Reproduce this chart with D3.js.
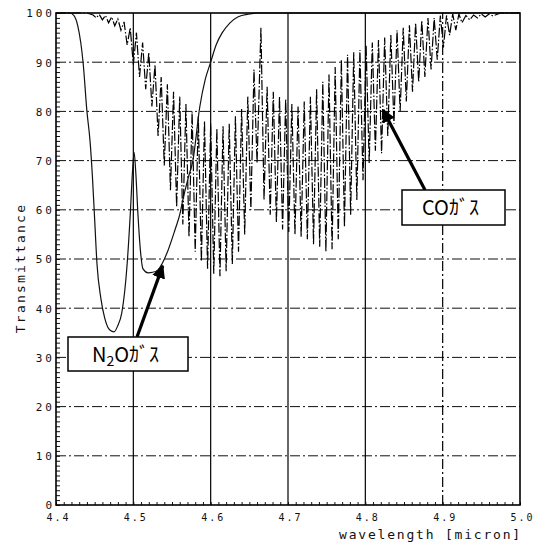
<!DOCTYPE html>
<html>
<head>
<meta charset="utf-8">
<script src="https://cdn.jsdelivr.net/npm/d3@7"></script>
<style>
  body { margin: 0; background: #fff; }
  svg { display: block; }
  .mono { font-family: "DejaVu Sans Mono", monospace; fill: #111; }
  .note { font-family: "Noto Sans CJK JP", "Noto Sans", sans-serif; fill: #000; }
</style>
</head>
<body>
<div id="container"></div>
<script>
/* DATA */
const xTicks = [4.4, 4.5, 4.6, 4.7, 4.8, 4.9, 5.0];
const xTickLabels = ["4.4", "4.5", "4.6", "4.7", "4.8", "4.9", "5.0"];
const yTicks = [0, 10, 20, 30, 40, 50, 60, 70, 80, 90, 100];

// N2O gas (smooth solid curve)
const n2oWave = [4.400, 4.418, 4.423, 4.428, 4.432, 4.435, 4.440, 4.444, 4.447, 4.450,
  4.453, 4.458, 4.463, 4.470, 4.475, 4.480, 4.485, 4.492, 4.496, 4.499,
  4.501, 4.503, 4.506, 4.509, 4.5125, 4.519, 4.525, 4.532, 4.537, 4.5435,
  4.554, 4.560, 4.564, 4.571, 4.577, 4.586, 4.593, 4.600, 4.607, 4.615,
  4.625, 4.635, 4.650, 4.660, 5.000];
const n2oTrans = [100, 100, 99.5, 97.5, 94, 90, 80, 74, 67, 58,
  49, 42, 38, 35.5, 35.2, 36.5, 39, 49, 59, 68,
  71.7, 68, 59, 52, 48, 47.2, 47.3, 47.8, 49, 51.2,
  56, 59, 62, 66.5, 70, 81, 86.5, 90, 93.5, 96,
  98, 99.2, 99.8, 100, 100];

// CO gas (rotational lines, dash-dot trace)
const coWave = [4.400, 4.440, 4.448, 4.452, 4.456, 4.460, 4.464, 4.468, 4.472, 4.476,
  4.480, 4.484, 4.488, 4.492, 4.496, 4.500, 4.504, 4.508, 4.512, 4.516,
  4.520, 4.524, 4.528, 4.532, 4.536, 4.540, 4.544, 4.548, 4.552, 4.556,
  4.560, 4.564, 4.568, 4.572, 4.576, 4.580, 4.584, 4.588, 4.592, 4.596,
  4.600, 4.604, 4.608, 4.612, 4.616, 4.620, 4.624, 4.628, 4.632, 4.636,
  4.640, 4.644, 4.648, 4.652, 4.656, 4.660, 4.665, 4.669, 4.673, 4.677,
  4.681, 4.685, 4.689, 4.693, 4.697, 4.701, 4.705, 4.709, 4.713, 4.717,
  4.721, 4.725, 4.729, 4.733, 4.737, 4.741, 4.745, 4.749, 4.753, 4.757,
  4.761, 4.765, 4.769, 4.773, 4.777, 4.781, 4.785, 4.789, 4.793, 4.797,
  4.801, 4.805, 4.809, 4.813, 4.817, 4.821, 4.825, 4.829, 4.833, 4.837,
  4.841, 4.845, 4.849, 4.853, 4.857, 4.861, 4.865, 4.869, 4.873, 4.877,
  4.881, 4.885, 4.889, 4.893, 4.897, 4.901, 4.905, 4.909, 4.913, 4.917,
  4.921, 4.925, 4.930, 4.935, 4.940, 4.945, 4.950, 4.955, 4.960, 4.965,
  4.975, 5.000];
const coTrans = [100, 100, 99.6, 99.0, 99.7, 98.6, 99.5, 98.0, 99.2, 97.4,
  98.8, 96.5, 98.2, 93.5, 97.0, 89.5, 96.0, 87.0, 94.0, 84.5,
  92.0, 81.0, 89.5, 75.0, 87.0, 69.0, 85.5, 64.0, 84.0, 60.5,
  83.0, 57.0, 81.5, 54.5, 80.0, 51.5, 79.0, 49.5, 78.0, 48.0,
  77.5, 47.0, 76.5, 46.5, 77.0, 47.5, 77.5, 49.0, 79.0, 51.5,
  80.5, 55.0, 83.0, 60.0, 88.5, 69.5, 97.0, 62.0, 85.0, 59.0,
  84.0, 57.5, 83.0, 56.0, 82.5, 55.5, 81.5, 55.0, 81.0, 54.5,
  82.0, 54.0, 83.0, 53.0, 84.5, 52.5, 86.0, 51.5, 87.5, 52.0,
  89.0, 54.0, 90.5, 56.5, 91.5, 59.0, 92.0, 62.0, 92.5, 66.0,
  93.5, 69.5, 94.0, 72.0, 94.5, 71.5, 95.0, 75.0, 95.5, 77.5,
  96.5, 80.0, 97.0, 82.0, 97.5, 84.0, 98.0, 86.0, 98.5, 87.0,
  99.0, 88.5, 99.0, 90.5, 99.5, 93.0, 99.5, 95.5, 99.8, 96.5,
  99.8, 98.0, 99.5, 98.6, 99.6, 99.0, 99.8, 99.2, 99.8, 99.4,
  100, 100];

/* CONSTANTS */
const width = 539;
const height = 543;
const margin = { top: 13, right: 19, bottom: 38, left: 56 };

const svg = d3.select("#container")
  .append("svg")
  .attr("width", width)
  .attr("height", height);

svg.append("rect").attr("width", width).attr("height", height).attr("fill", "#fff");

/* SCALES */
const xScale = d3.scaleLinear()
  .domain([4.4, 5.0])
  .range([margin.left, width - margin.right]);

const yScale = d3.scaleLinear()
  .domain([0, 100])
  .range([height - margin.bottom, margin.top]);

const x0 = margin.left, x1 = width - margin.right;
const y0 = height - margin.bottom, y1 = margin.top;

/* GRID */
svg.append("g")
  .selectAll("line")
  .data(yTicks.filter(d => d > 0 && d < 100))
  .join("line")
    .attr("x1", x0).attr("x2", x1)
    .attr("y1", d => yScale(d)).attr("y2", d => yScale(d))
    .attr("stroke", "#111")
    .attr("stroke-width", 1)
    .attr("stroke-dasharray", "10,3,2,3");

svg.append("g")
  .selectAll("line")
  .data(xTicks.filter(d => d > 4.4 && d < 5.0))
  .join("line")
    .attr("x1", d => xScale(d)).attr("x2", d => xScale(d))
    .attr("y1", y0).attr("y2", y1)
    .attr("stroke", "#000")
    .attr("stroke-width", 1.2)
    .attr("stroke-dasharray", d => d > 4.85 ? "10,3,2,3" : null);

/* MINOR TICKS (inside the frame) */
svg.append("g")
  .attr("transform", `translate(${x0},0)`)
  .call(d3.axisRight(yScale).ticks(100).tickSize(4).tickFormat(""))
  .call(g => g.select(".domain").remove())
  .selectAll("line").attr("stroke", "#111");

svg.append("g")
  .attr("transform", `translate(0,${y0})`)
  .call(d3.axisTop(xScale).ticks(60).tickSize(3).tickFormat(""))
  .call(g => g.select(".domain").remove())
  .selectAll("line").attr("stroke", "#111");

/* CURVES */
const n2oData = n2oWave.map((w, i) => ({ w, t: n2oTrans[i] }));
const coData = coWave.map((w, i) => ({ w, t: coTrans[i] }));

svg.append("path")
  .datum(coData)
  .attr("fill", "none")
  .attr("stroke", "#000")
  .attr("stroke-width", 1.2)
  .attr("stroke-dasharray", "10,2,1.5,2")
  .attr("d", d3.line().x(d => xScale(d.w)).y(d => yScale(d.t)));

svg.append("path")
  .datum(n2oData)
  .attr("fill", "none")
  .attr("stroke", "#111")
  .attr("stroke-width", 1.2)
  .attr("d", d3.line().curve(d3.curveMonotoneX).x(d => xScale(d.w)).y(d => yScale(d.t)));

/* FRAME */
svg.append("rect")
  .attr("x", x0).attr("y", y1)
  .attr("width", x1 - x0).attr("height", y0 - y1)
  .attr("fill", "none")
  .attr("stroke", "#000")
  .attr("stroke-width", 1.6);

/* AXIS LABELS */
const yAxis = svg.append("g")
  .attr("transform", `translate(${x0 - 4},0)`)
  .call(d3.axisLeft(yScale).tickValues(yTicks).tickSize(0).tickPadding(0).tickFormat(d => d));
yAxis.select(".domain").remove();
yAxis.selectAll("text")
  .attr("class", "mono")
  .attr("font-size", 11)
  .attr("letter-spacing", 3)
  .attr("dx", 3)
  .attr("dy", "0.35em");

const xAxis = svg.append("g")
  .attr("transform", `translate(0,${y0})`)
  .call(d3.axisBottom(xScale).tickValues(xTicks).tickSize(0).tickPadding(9)
    .tickFormat((d, i) => xTickLabels[i]));
xAxis.select(".domain").remove();
xAxis.selectAll("text")
  .attr("class", "mono")
  .attr("font-size", 10)
  .attr("letter-spacing", 2)
  .attr("dx", 2);

svg.append("text")
  .attr("class", "mono")
  .attr("text-anchor", "end")
  .attr("x", x1 + 2)
  .attr("y", 539)
  .attr("font-size", 13)
  .attr("letter-spacing", 1.8)
  .text("wavelength [micron]");

svg.append("text")
  .attr("class", "mono")
  .attr("text-anchor", "middle")
  .attr("transform", "translate(25,268) rotate(-90)")
  .attr("font-size", 13)
  .attr("letter-spacing", 2.2)
  .text("Transmittance");

/* ANNOTATIONS */
svg.append("defs").append("marker")
  .attr("id", "head")
  .attr("viewBox", "0 0 10 10")
  .attr("refX", 9).attr("refY", 5)
  .attr("markerWidth", 4.2).attr("markerHeight", 4.2)
  .attr("markerUnits", "strokeWidth")
  .attr("orient", "auto")
  .append("path")
    .attr("d", "M0,0 L10,5 L0,10 Z")
    .attr("fill", "#000");

// N2O arrow + box
svg.append("line")
  .attr("x1", 137).attr("y1", 337)
  .attr("x2", xScale(4.538)).attr("y2", yScale(48.6))
  .attr("stroke", "#000").attr("stroke-width", 3.2)
  .attr("marker-end", "url(#head)");

svg.append("rect")
  .attr("x", 68).attr("y", 337).attr("width", 120).attr("height", 34)
  .attr("fill", "#fff").attr("stroke", "#000").attr("stroke-width", 1.5);

const n2oLabel = svg.append("text")
  .attr("class", "note")
  .attr("x", 92).attr("y", 362)
  .attr("font-size", 20);
n2oLabel.append("tspan").text("N");
n2oLabel.append("tspan").attr("font-size", 14).attr("dy", 4).text("2");
n2oLabel.append("tspan").attr("dy", -4).text("Oｶﾞｽ");

// CO arrow + box
svg.append("line")
  .attr("x1", 425).attr("y1", 190)
  .attr("x2", xScale(4.8229)).attr("y2", yScale(80.3))
  .attr("stroke", "#000").attr("stroke-width", 3.2)
  .attr("marker-end", "url(#head)");

svg.append("rect")
  .attr("x", 402).attr("y", 190).attr("width", 103).attr("height", 35)
  .attr("fill", "#fff").attr("stroke", "#000").attr("stroke-width", 1.5);

svg.append("text")
  .attr("class", "note")
  .attr("x", 422).attr("y", 215)
  .attr("font-size", 20)
  .text("COｶﾞｽ");
</script>
</body>
</html>
